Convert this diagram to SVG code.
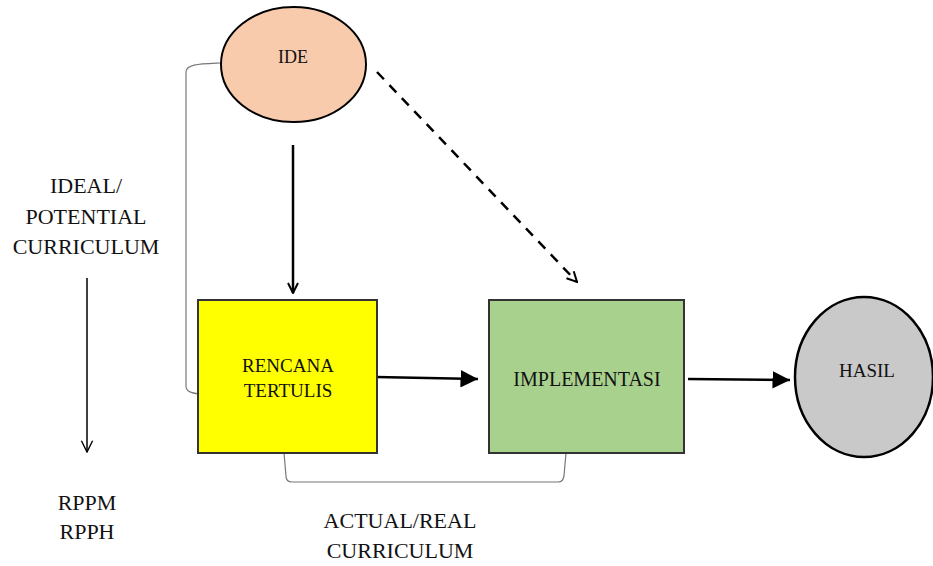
<svg xmlns="http://www.w3.org/2000/svg" width="933" height="566" viewBox="0 0 933 566" font-family="'Liberation Serif', 'DejaVu Serif', serif">
<style>
text{font-family:'Liberation Serif','DejaVu Serif',serif;fill:#111;text-anchor:middle}
.lbl{font-size:22px}
.bx{font-size:19px}
.br{fill:none;stroke:#777;stroke-width:1.2}
.ar{fill:none;stroke:#000;stroke-width:2.5}
</style>
<defs>
<marker id="tri" viewBox="0 0 10 10" refX="10" refY="5" markerWidth="7" markerHeight="7" markerUnits="strokeWidth" orient="auto">
<path d="M0,0 L10,5 L0,10 Z" fill="#000"/>
</marker>
<marker id="open" viewBox="0 0 10 10" refX="9" refY="5" markerWidth="5" markerHeight="5" markerUnits="strokeWidth" orient="auto">
<path d="M1,1 L9,5 L1,9" fill="none" stroke="#000" stroke-width="1.6"/>
</marker>
<marker id="thin" viewBox="0 0 10 10" refX="9" refY="5" markerWidth="14" markerHeight="14" markerUnits="userSpaceOnUse" orient="auto">
<path d="M1,1 L9,5 L1,9" fill="none" stroke="#000" stroke-width="1"/>
</marker>
</defs>
<g id="connectors">
<path class="br" d="M221,63 C200,64 186,64 186,72 L186,386 C186,392 192,393 199,394"/>
<path class="br" d="M284,453 L286,476 C286,480 288,482 292,482 L558,482 C562,482 563,480 564,476 L566,453"/>
<line class="ar" x1="293" y1="145" x2="293" y2="293" marker-end="url(#open)"/>
<line class="ar" x1="377" y1="72" x2="577" y2="282" stroke-dasharray="10,8" marker-end="url(#open)"/>
<line class="ar" x1="376" y1="377" x2="478" y2="379" marker-end="url(#tri)"/>
<line class="ar" x1="688" y1="379" x2="790" y2="380" marker-end="url(#tri)"/>
<line x1="87" y1="278" x2="87" y2="452" stroke="#000" stroke-width="1.5" marker-end="url(#thin)"/>
</g>
<g id="ide">
<ellipse cx="293.5" cy="64.5" rx="72.5" ry="57.5" fill="#f8cbad" stroke="#000" stroke-width="2"/>
<text class="bx" x="293" y="63" style="font-size:18px">IDE</text>
</g>
<g id="rencana">
<rect x="198" y="300" width="179" height="153" fill="#ffff00" stroke="#333" stroke-width="2"/>
<text class="bx" x="288" y="372">RENCANA</text>
<text class="bx" x="288" y="397">TERTULIS</text>
</g>
<g id="implementasi">
<rect x="489" y="300" width="195" height="153" fill="#a9d18e" stroke="#333" stroke-width="2"/>
<text class="bx" x="587" y="386" style="font-size:20px">IMPLEMENTASI</text>
</g>
<g id="hasil">
<ellipse cx="864" cy="377" rx="69" ry="80" fill="#c9c9c9" stroke="#000" stroke-width="2.5"/>
<text class="bx" x="867" y="377">HASIL</text>
</g>
<g id="ideal">
<text class="lbl" x="86" y="193">IDEAL/</text>
<text class="lbl" x="86" y="224">POTENTIAL</text>
<text class="lbl" x="86" y="254">CURRICULUM</text>
</g>
<g id="rpp">
<text class="lbl" x="87" y="510">RPPM</text>
<text class="lbl" x="87" y="539">RPPH</text>
</g>
<g id="actual">
<text class="lbl" x="400" y="528">ACTUAL/REAL</text>
<text class="lbl" x="400" y="558">CURRICULUM</text>
</g>
</svg>
